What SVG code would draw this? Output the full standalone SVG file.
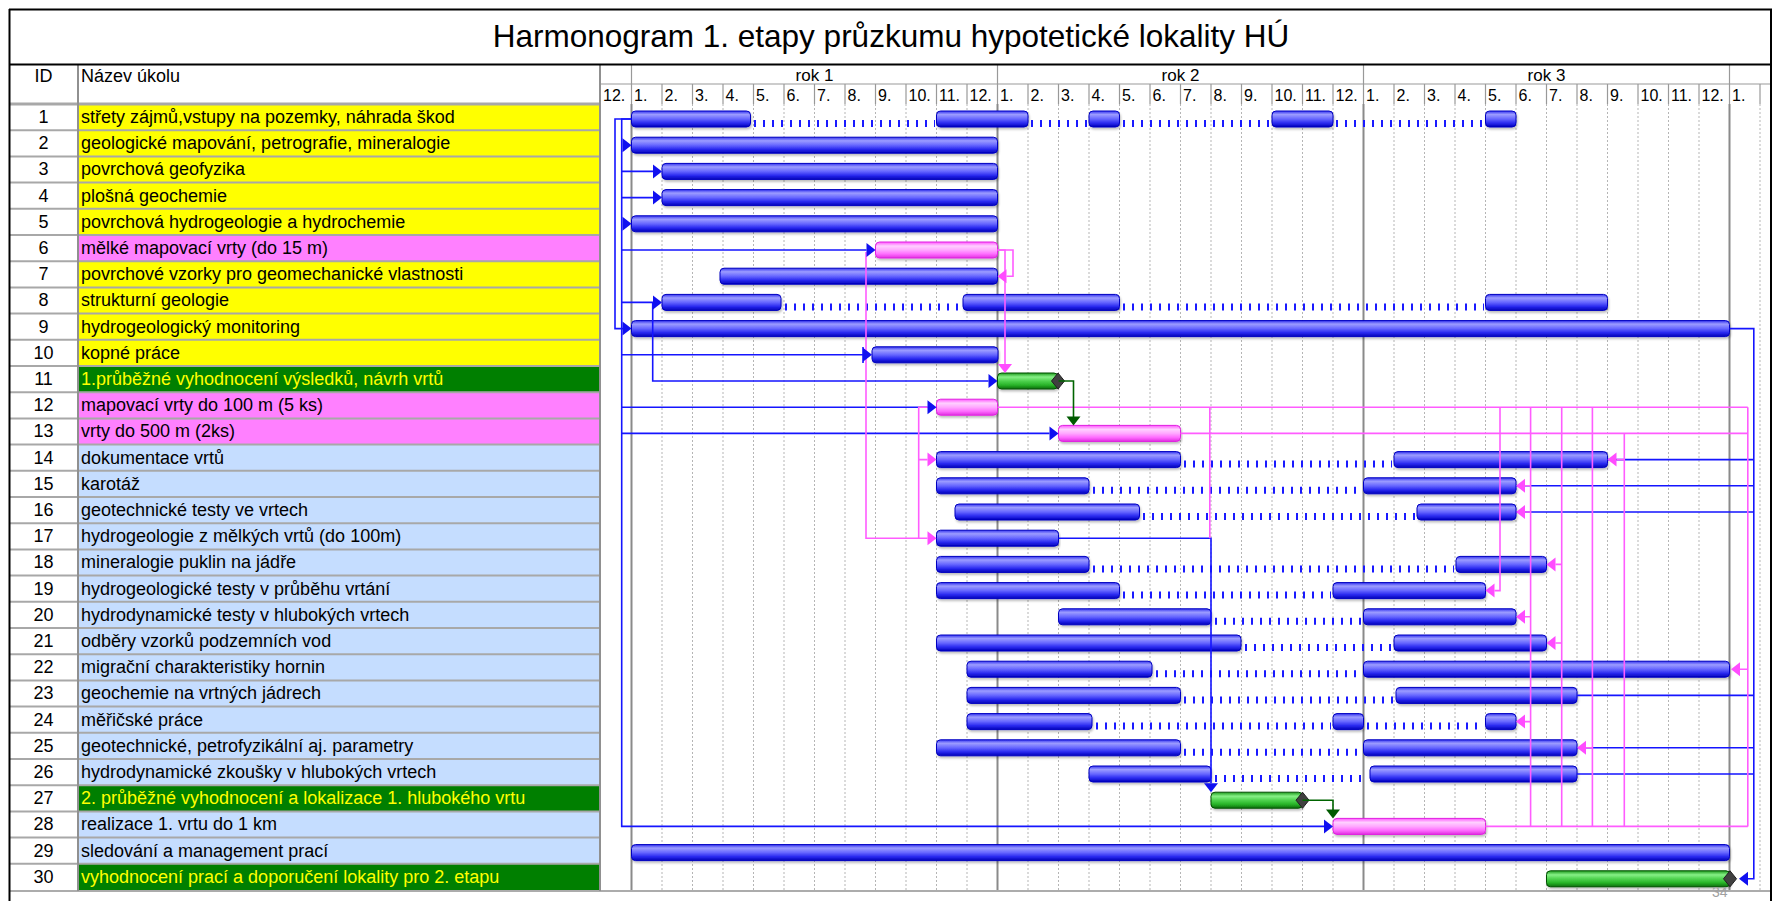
<svg xmlns="http://www.w3.org/2000/svg" xmlns:xlink="http://www.w3.org/1999/xlink" width="1775" height="901" viewBox="0 0 1775 901">
<style>
.tx{font-family:"Liberation Sans",Arial,sans-serif;font-size:18px;fill:#000}
.mid{text-anchor:middle}
.ylw{fill:#ffff00}
.mo{font-family:"Liberation Sans",Arial,sans-serif;font-size:16px;fill:#000}
.yr{font-family:"Liberation Sans",Arial,sans-serif;font-size:17px;fill:#000;text-anchor:middle}
.bb{fill:url(#gB);stroke:#0000c0;stroke-width:1}
.bp{fill:url(#gP);stroke:#e020e0;stroke-width:1}
.bg{fill:url(#gG);stroke:#005000;stroke-width:1}
.dt{stroke:#1a1aff;stroke-width:7;stroke-dasharray:2 7;fill:none}
.cb{stroke:#1515ff;stroke-width:1.6;fill:none}
.cp{stroke:#ff5cff;stroke-width:1.6;fill:none}
.cg{stroke:#006400;stroke-width:1.6;fill:none}
.ab{fill:#1010f0}
.ap{fill:#ff4cff}
.ag{fill:#005a00}
.gd{stroke:#b5b5b5;stroke-width:1;stroke-dasharray:2 2}
.yl{stroke:#8a8a8a;stroke-width:2}
.hl{stroke:#999;stroke-width:1.2;fill:none}
.sep{stroke:#a8a8a8;stroke-width:2}
.dm{fill:#404040;stroke:#202020;stroke-width:1}
.ry{fill:#ffff00}.rp{fill:#ff80ff}.rg{fill:#007f00}.rb{fill:#c5ddff}
</style>
<defs>
<linearGradient id="gB" x1="0" y1="0" x2="0" y2="1">
<stop offset="0" stop-color="#3535f0"/><stop offset="0.22" stop-color="#9c9cff"/><stop offset="0.5" stop-color="#6666ff"/><stop offset="0.75" stop-color="#2a2af0"/><stop offset="1" stop-color="#0000b8"/>
</linearGradient>
<linearGradient id="gP" x1="0" y1="0" x2="0" y2="1">
<stop offset="0" stop-color="#ff55ff"/><stop offset="0.25" stop-color="#ffd0ff"/><stop offset="0.5" stop-color="#ffa8ff"/><stop offset="0.75" stop-color="#ff6cff"/><stop offset="1" stop-color="#e030e0"/>
</linearGradient>
<linearGradient id="gG" x1="0" y1="0" x2="0" y2="1">
<stop offset="0" stop-color="#1c9a1c"/><stop offset="0.25" stop-color="#86f086"/><stop offset="0.5" stop-color="#4fd24f"/><stop offset="0.75" stop-color="#28b428"/><stop offset="1" stop-color="#0e6e0e"/>
</linearGradient>
<filter id="sh" x="-2%" y="-40%" width="104%" height="190%">
<feDropShadow dx="1" dy="2" stdDeviation="0.8" flood-color="#000" flood-opacity="0.25"/>
</filter>
<path id="aR" d="M0,0 L-9,-7 L-9,7 Z"/>
<path id="aL" d="M0,0 L9,-7 L9,7 Z"/>
<path id="aD" d="M0,0 L-7,-9 L7,-9 Z"/>
<path id="dmd" d="M0,-8 L6.5,0 L0,8 L-6.5,0 Z"/>
</defs>

<rect x="0" y="0" width="1775" height="901" fill="#fff"/>

<g id="title">
<text class="tx mid" x="891" y="47" style="font-size:31.5px">Harmonogram 1. etapy průzkumu hypotetické lokality HÚ</text>
</g>

<g id="grid">
<g class="gd">
<line x1="662" y1="104" x2="662" y2="890"/><line x1="692.5" y1="104" x2="692.5" y2="890"/><line x1="723" y1="104" x2="723" y2="890"/><line x1="753.5" y1="104" x2="753.5" y2="890"/><line x1="784" y1="104" x2="784" y2="890"/><line x1="814.5" y1="104" x2="814.5" y2="890"/><line x1="845" y1="104" x2="845" y2="890"/><line x1="875.5" y1="104" x2="875.5" y2="890"/><line x1="906" y1="104" x2="906" y2="890"/><line x1="936.5" y1="104" x2="936.5" y2="890"/><line x1="967" y1="104" x2="967" y2="890"/>
<line x1="1028" y1="104" x2="1028" y2="890"/><line x1="1058.5" y1="104" x2="1058.5" y2="890"/><line x1="1089" y1="104" x2="1089" y2="890"/><line x1="1119.5" y1="104" x2="1119.5" y2="890"/><line x1="1150" y1="104" x2="1150" y2="890"/><line x1="1180.5" y1="104" x2="1180.5" y2="890"/><line x1="1211" y1="104" x2="1211" y2="890"/><line x1="1241.5" y1="104" x2="1241.5" y2="890"/><line x1="1272" y1="104" x2="1272" y2="890"/><line x1="1302.5" y1="104" x2="1302.5" y2="890"/><line x1="1333" y1="104" x2="1333" y2="890"/>
<line x1="1394" y1="104" x2="1394" y2="890"/><line x1="1424.5" y1="104" x2="1424.5" y2="890"/><line x1="1455" y1="104" x2="1455" y2="890"/><line x1="1485.5" y1="104" x2="1485.5" y2="890"/><line x1="1516" y1="104" x2="1516" y2="890"/><line x1="1546.5" y1="104" x2="1546.5" y2="890"/><line x1="1577" y1="104" x2="1577" y2="890"/><line x1="1607.5" y1="104" x2="1607.5" y2="890"/><line x1="1638" y1="104" x2="1638" y2="890"/><line x1="1668.5" y1="104" x2="1668.5" y2="890"/><line x1="1699" y1="104" x2="1699" y2="890"/>
<line x1="1760" y1="104" x2="1760" y2="890"/>
</g>
<g class="yl">
<line x1="631.5" y1="104" x2="631.5" y2="890"/><line x1="997.5" y1="104" x2="997.5" y2="890"/><line x1="1363.5" y1="104" x2="1363.5" y2="890"/><line x1="1729.5" y1="104" x2="1729.5" y2="890"/>
</g>
</g>

<g id="header">
<line class="hl" x1="600" y1="84" x2="1771" y2="84"/>
<g class="hl">
<line x1="631.5" y1="64" x2="631.5" y2="104"/><line x1="997.5" y1="64" x2="997.5" y2="104"/><line x1="1363.5" y1="64" x2="1363.5" y2="104"/><line x1="1729.5" y1="64" x2="1729.5" y2="104"/>
<line x1="662" y1="84" x2="662" y2="104"/><line x1="692.5" y1="84" x2="692.5" y2="104"/><line x1="723" y1="84" x2="723" y2="104"/><line x1="753.5" y1="84" x2="753.5" y2="104"/><line x1="784" y1="84" x2="784" y2="104"/><line x1="814.5" y1="84" x2="814.5" y2="104"/><line x1="845" y1="84" x2="845" y2="104"/><line x1="875.5" y1="84" x2="875.5" y2="104"/><line x1="906" y1="84" x2="906" y2="104"/><line x1="936.5" y1="84" x2="936.5" y2="104"/><line x1="967" y1="84" x2="967" y2="104"/>
<line x1="1028" y1="84" x2="1028" y2="104"/><line x1="1058.5" y1="84" x2="1058.5" y2="104"/><line x1="1089" y1="84" x2="1089" y2="104"/><line x1="1119.5" y1="84" x2="1119.5" y2="104"/><line x1="1150" y1="84" x2="1150" y2="104"/><line x1="1180.5" y1="84" x2="1180.5" y2="104"/><line x1="1211" y1="84" x2="1211" y2="104"/><line x1="1241.5" y1="84" x2="1241.5" y2="104"/><line x1="1272" y1="84" x2="1272" y2="104"/><line x1="1302.5" y1="84" x2="1302.5" y2="104"/><line x1="1333" y1="84" x2="1333" y2="104"/>
<line x1="1394" y1="84" x2="1394" y2="104"/><line x1="1424.5" y1="84" x2="1424.5" y2="104"/><line x1="1455" y1="84" x2="1455" y2="104"/><line x1="1485.5" y1="84" x2="1485.5" y2="104"/><line x1="1516" y1="84" x2="1516" y2="104"/><line x1="1546.5" y1="84" x2="1546.5" y2="104"/><line x1="1577" y1="84" x2="1577" y2="104"/><line x1="1607.5" y1="84" x2="1607.5" y2="104"/><line x1="1638" y1="84" x2="1638" y2="104"/><line x1="1668.5" y1="84" x2="1668.5" y2="104"/><line x1="1699" y1="84" x2="1699" y2="104"/>
<line x1="1760" y1="84" x2="1760" y2="104"/>
</g>
<text class="yr" x="814.5" y="81">rok 1</text>
<text class="yr" x="1180.5" y="81">rok 2</text>
<text class="yr" x="1546.5" y="81">rok 3</text>
<g class="mo">
<text x="603" y="101">12.</text>
<text x="634" y="101">1.</text><text x="664.5" y="101">2.</text><text x="695" y="101">3.</text><text x="725.5" y="101">4.</text><text x="756" y="101">5.</text><text x="786.5" y="101">6.</text><text x="817" y="101">7.</text><text x="847.5" y="101">8.</text><text x="878" y="101">9.</text><text x="908.5" y="101">10.</text><text x="939" y="101">11.</text><text x="969.5" y="101">12.</text>
<text x="1000" y="101">1.</text><text x="1030.5" y="101">2.</text><text x="1061" y="101">3.</text><text x="1091.5" y="101">4.</text><text x="1122" y="101">5.</text><text x="1152.5" y="101">6.</text><text x="1183" y="101">7.</text><text x="1213.5" y="101">8.</text><text x="1244" y="101">9.</text><text x="1274.5" y="101">10.</text><text x="1305" y="101">11.</text><text x="1335.5" y="101">12.</text>
<text x="1366" y="101">1.</text><text x="1396.5" y="101">2.</text><text x="1427" y="101">3.</text><text x="1457.5" y="101">4.</text><text x="1488" y="101">5.</text><text x="1518.5" y="101">6.</text><text x="1549" y="101">7.</text><text x="1579.5" y="101">8.</text><text x="1610" y="101">9.</text><text x="1640.5" y="101">10.</text><text x="1671" y="101">11.</text><text x="1701.5" y="101">12.</text>
<text x="1732" y="101">1.</text>
</g>
<text class="tx mid" x="43.5" y="82">ID</text>
<text class="tx" x="81" y="82">Název úkolu</text>
</g>

<g id="table-rows">
<rect class="ry" x="78" y="104" width="522" height="131"/>
<rect class="rp" x="78" y="235" width="522" height="26.2"/>
<rect class="ry" x="78" y="261.2" width="522" height="104.8"/>
<rect class="rg" x="78" y="366" width="522" height="26.2"/>
<rect class="rp" x="78" y="392.2" width="522" height="52.4"/>
<rect class="rb" x="78" y="444.6" width="522" height="340.6"/>
<rect class="rg" x="78" y="785.2" width="522" height="26.2"/>
<rect class="rb" x="78" y="811.4" width="522" height="52.4"/>
<rect class="rg" x="78" y="863.8" width="522" height="26.2"/>
<g class="sep">
<line x1="10" y1="104" x2="600" y2="104" style="stroke-width:3"/>
<line x1="10" y1="130.2" x2="600" y2="130.2"/><line x1="10" y1="156.4" x2="600" y2="156.4"/><line x1="10" y1="182.6" x2="600" y2="182.6"/><line x1="10" y1="208.8" x2="600" y2="208.8"/><line x1="10" y1="235" x2="600" y2="235"/><line x1="10" y1="261.2" x2="600" y2="261.2"/><line x1="10" y1="287.4" x2="600" y2="287.4"/><line x1="10" y1="313.6" x2="600" y2="313.6"/><line x1="10" y1="339.8" x2="600" y2="339.8"/><line x1="10" y1="366" x2="600" y2="366"/>
<line x1="10" y1="392.2" x2="600" y2="392.2"/><line x1="10" y1="418.4" x2="600" y2="418.4"/><line x1="10" y1="444.6" x2="600" y2="444.6"/><line x1="10" y1="470.8" x2="600" y2="470.8"/><line x1="10" y1="497" x2="600" y2="497"/><line x1="10" y1="523.2" x2="600" y2="523.2"/><line x1="10" y1="549.4" x2="600" y2="549.4"/><line x1="10" y1="575.6" x2="600" y2="575.6"/><line x1="10" y1="601.8" x2="600" y2="601.8"/><line x1="10" y1="628" x2="600" y2="628"/>
<line x1="10" y1="654.2" x2="600" y2="654.2"/><line x1="10" y1="680.4" x2="600" y2="680.4"/><line x1="10" y1="706.6" x2="600" y2="706.6"/><line x1="10" y1="732.8" x2="600" y2="732.8"/><line x1="10" y1="759" x2="600" y2="759"/><line x1="10" y1="785.2" x2="600" y2="785.2"/><line x1="10" y1="811.4" x2="600" y2="811.4"/><line x1="10" y1="837.6" x2="600" y2="837.6"/><line x1="10" y1="863.8" x2="600" y2="863.8"/>
</g>
<line x1="78" y1="64" x2="78" y2="891" stroke="#909090" stroke-width="2"/>
<line x1="600" y1="64" x2="600" y2="891" stroke="#909090" stroke-width="2"/>
<line x1="9" y1="891" x2="1771" y2="891" stroke="#909090" stroke-width="1.5"/>
</g>

<g id="frame" fill="none" stroke="#000" stroke-width="2">
<line x1="9.5" y1="9" x2="9.5" y2="901"/>
<line x1="9" y1="9.5" x2="1772" y2="9.5"/>
<line x1="9" y1="64.5" x2="1772" y2="64.5"/>
<line x1="1771" y1="9" x2="1771" y2="901"/>
</g>

<g id="task-1"><text class="tx mid" x="43.5" y="123">1</text><text class="tx" x="81" y="123">střety zájmů,vstupy na pozemky, náhrada škod</text>
<path class="dt" d="M754,123.5 H935 M1031,123.5 H1088 M1123,123.5 H1271 M1336,123.5 H1484"/>
<g filter="url(#sh)"><rect class="bb" x="631.5" y="111" width="119" height="16" rx="4"/><rect class="bb" x="936.5" y="111" width="91.5" height="16" rx="4"/><rect class="bb" x="1089" y="111" width="30.5" height="16" rx="4"/><rect class="bb" x="1272" y="111" width="61" height="16" rx="4"/><rect class="bb" x="1485.5" y="111" width="30.5" height="16" rx="4"/></g></g>
<g id="task-2"><text class="tx mid" x="43.5" y="149.2">2</text><text class="tx" x="81" y="149.2">geologické mapování, petrografie, mineralogie</text>
<g filter="url(#sh)"><rect class="bb" x="631.5" y="137.2" width="366" height="16" rx="4"/></g></g>
<g id="task-3"><text class="tx mid" x="43.5" y="175.4">3</text><text class="tx" x="81" y="175.4">povrchová geofyzika</text>
<g filter="url(#sh)"><rect class="bb" x="662" y="163.4" width="335.5" height="16" rx="4"/></g></g>
<g id="task-4"><text class="tx mid" x="43.5" y="201.6">4</text><text class="tx" x="81" y="201.6">plošná geochemie</text>
<g filter="url(#sh)"><rect class="bb" x="662" y="189.6" width="335.5" height="16" rx="4"/></g></g>
<g id="task-5"><text class="tx mid" x="43.5" y="227.8">5</text><text class="tx" x="81" y="227.8">povrchová hydrogeologie a hydrochemie</text>
<g filter="url(#sh)"><rect class="bb" x="631.5" y="215.8" width="366" height="16" rx="4"/></g></g>
<g id="task-6"><text class="tx mid" x="43.5" y="254">6</text><text class="tx" x="81" y="254">mělké mapovací vrty (do 15 m)</text>
<g filter="url(#sh)"><rect class="bp" x="875.5" y="242" width="122" height="16" rx="4"/></g></g>
<g id="task-7"><text class="tx mid" x="43.5" y="280.2">7</text><text class="tx" x="81" y="280.2">povrchové vzorky pro geomechanické vlastnosti</text>
<g filter="url(#sh)"><rect class="bb" x="720" y="268.2" width="277.5" height="16" rx="4"/></g></g>
<g id="task-8"><text class="tx mid" x="43.5" y="306.4">8</text><text class="tx" x="81" y="306.4">strukturní geologie</text>
<path class="dt" d="M785,306.9 H961 M1123,306.9 H1484"/>
<g filter="url(#sh)"><rect class="bb" x="662" y="294.4" width="119" height="16" rx="4"/><rect class="bb" x="963" y="294.4" width="156.5" height="16" rx="4"/><rect class="bb" x="1485.5" y="294.4" width="122" height="16" rx="4"/></g></g>
<g id="task-9"><text class="tx mid" x="43.5" y="332.6">9</text><text class="tx" x="81" y="332.6">hydrogeologický monitoring</text>
<g filter="url(#sh)"><rect class="bb" x="631.5" y="320.6" width="1098" height="16" rx="4"/></g></g>
<g id="task-10"><text class="tx mid" x="43.5" y="358.8">10</text><text class="tx" x="81" y="358.8">kopné práce</text>
<g filter="url(#sh)"><rect class="bb" x="872" y="346.8" width="126" height="16" rx="4"/></g></g>
<g id="task-11"><text class="tx mid" x="43.5" y="385">11</text><text class="tx ylw" x="81" y="385">1.průběžné vyhodnocení výsledků, návrh vrtů</text>
<g filter="url(#sh)"><rect class="bg" x="997.5" y="373" width="60.5" height="16" rx="4"/></g><use href="#dmd" class="dm" x="1058" y="381"/></g>
<g id="task-12"><text class="tx mid" x="43.5" y="411.2">12</text><text class="tx" x="81" y="411.2">mapovací vrty do 100 m (5 ks)</text>
<g filter="url(#sh)"><rect class="bp" x="936.5" y="399.2" width="61" height="16" rx="4"/></g></g>
<g id="task-13"><text class="tx mid" x="43.5" y="437.4">13</text><text class="tx" x="81" y="437.4">vrty do 500 m (2ks)</text>
<g filter="url(#sh)"><rect class="bp" x="1058.5" y="425.4" width="122" height="16" rx="4"/></g></g>
<g id="task-14"><text class="tx mid" x="43.5" y="463.6">14</text><text class="tx" x="81" y="463.6">dokumentace vrtů</text>
<path class="dt" d="M1184,464.1 H1392"/>
<g filter="url(#sh)"><rect class="bb" x="936.5" y="451.6" width="244" height="16" rx="4"/><rect class="bb" x="1394" y="451.6" width="213.5" height="16" rx="4"/></g></g>
<g id="task-15"><text class="tx mid" x="43.5" y="489.8">15</text><text class="tx" x="81" y="489.8">karotáž</text>
<path class="dt" d="M1093,490.3 H1361"/>
<g filter="url(#sh)"><rect class="bb" x="936.5" y="477.8" width="152.5" height="16" rx="4"/><rect class="bb" x="1363.5" y="477.8" width="152.5" height="16" rx="4"/></g></g>
<g id="task-16"><text class="tx mid" x="43.5" y="516">16</text><text class="tx" x="81" y="516">geotechnické testy ve vrtech</text>
<path class="dt" d="M1143,516.5 H1415"/>
<g filter="url(#sh)"><rect class="bb" x="955" y="504" width="184.5" height="16" rx="4"/><rect class="bb" x="1417" y="504" width="99" height="16" rx="4"/></g></g>
<g id="task-17"><text class="tx mid" x="43.5" y="542.2">17</text><text class="tx" x="81" y="542.2">hydrogeologie z mělkých vrtů (do 100m)</text>
<g filter="url(#sh)"><rect class="bb" x="936.5" y="530.2" width="122" height="16" rx="4"/></g></g>
<g id="task-18"><text class="tx mid" x="43.5" y="568.4">18</text><text class="tx" x="81" y="568.4">mineralogie puklin na jádře</text>
<path class="dt" d="M1093,568.9 H1454"/>
<g filter="url(#sh)"><rect class="bb" x="936.5" y="556.4" width="152.5" height="16" rx="4"/><rect class="bb" x="1456" y="556.4" width="90.5" height="16" rx="4"/></g></g>
<g id="task-19"><text class="tx mid" x="43.5" y="594.6">19</text><text class="tx" x="81" y="594.6">hydrogeologické testy v průběhu vrtání</text>
<path class="dt" d="M1123,595.1 H1331"/>
<g filter="url(#sh)"><rect class="bb" x="936.5" y="582.6" width="183" height="16" rx="4"/><rect class="bb" x="1333" y="582.6" width="152.5" height="16" rx="4"/></g></g>
<g id="task-20"><text class="tx mid" x="43.5" y="620.8">20</text><text class="tx" x="81" y="620.8">hydrodynamické testy v hlubokých vrtech</text>
<path class="dt" d="M1215,621.3 H1361"/>
<g filter="url(#sh)"><rect class="bb" x="1058.5" y="608.8" width="152.5" height="16" rx="4"/><rect class="bb" x="1363.5" y="608.8" width="152.5" height="16" rx="4"/></g></g>
<g id="task-21"><text class="tx mid" x="43.5" y="647">21</text><text class="tx" x="81" y="647">odběry vzorků podzemních vod</text>
<path class="dt" d="M1245,647.5 H1392"/>
<g filter="url(#sh)"><rect class="bb" x="936.5" y="635" width="304.5" height="16" rx="4"/><rect class="bb" x="1394" y="635" width="152.5" height="16" rx="4"/></g></g>
<g id="task-22"><text class="tx mid" x="43.5" y="673.2">22</text><text class="tx" x="81" y="673.2">migrační charakteristiky hornin</text>
<path class="dt" d="M1156,673.7 H1361"/>
<g filter="url(#sh)"><rect class="bb" x="967" y="661.2" width="185" height="16" rx="4"/><rect class="bb" x="1363.5" y="661.2" width="366" height="16" rx="4"/></g></g>
<g id="task-23"><text class="tx mid" x="43.5" y="699.4">23</text><text class="tx" x="81" y="699.4">geochemie na vrtných jádrech</text>
<path class="dt" d="M1184,699.9 H1394"/>
<g filter="url(#sh)"><rect class="bb" x="967" y="687.4" width="213.5" height="16" rx="4"/><rect class="bb" x="1396" y="687.4" width="181" height="16" rx="4"/></g></g>
<g id="task-24"><text class="tx mid" x="43.5" y="725.6">24</text><text class="tx" x="81" y="725.6">měřičské práce</text>
<path class="dt" d="M1096,726.1 H1331 M1367,726.1 H1483"/>
<g filter="url(#sh)"><rect class="bb" x="967" y="713.6" width="125" height="16" rx="4"/><rect class="bb" x="1333" y="713.6" width="30.5" height="16" rx="4"/><rect class="bb" x="1485.5" y="713.6" width="30.5" height="16" rx="4"/></g></g>
<g id="task-25"><text class="tx mid" x="43.5" y="751.8">25</text><text class="tx" x="81" y="751.8">geotechnické, petrofyzikální aj. parametry</text>
<path class="dt" d="M1184,752.3 H1361"/>
<g filter="url(#sh)"><rect class="bb" x="936.5" y="739.8" width="244" height="16" rx="4"/><rect class="bb" x="1363.5" y="739.8" width="213.5" height="16" rx="4"/></g></g>
<g id="task-26"><text class="tx mid" x="43.5" y="778">26</text><text class="tx" x="81" y="778">hydrodynamické zkoušky v hlubokých vrtech</text>
<path class="dt" d="M1215,778.5 H1368"/>
<g filter="url(#sh)"><rect class="bb" x="1089" y="766" width="122" height="16" rx="4"/><rect class="bb" x="1370" y="766" width="207" height="16" rx="4"/></g></g>
<g id="task-27"><text class="tx mid" x="43.5" y="804.2">27</text><text class="tx ylw" x="81" y="804.2">2. průběžné vyhodnocení a lokalizace 1. hlubokého vrtu</text>
<g filter="url(#sh)"><rect class="bg" x="1211" y="792.2" width="91.5" height="16" rx="4"/></g><use href="#dmd" class="dm" x="1302.5" y="800.2"/></g>
<g id="task-28"><text class="tx mid" x="43.5" y="830.4">28</text><text class="tx" x="81" y="830.4">realizace 1. vrtu do 1 km</text>
<g filter="url(#sh)"><rect class="bp" x="1333" y="818.4" width="152.5" height="16" rx="4"/></g></g>
<g id="task-29"><text class="tx mid" x="43.5" y="856.6">29</text><text class="tx" x="81" y="856.6">sledování a management prací</text>
<g filter="url(#sh)"><rect class="bb" x="631.5" y="844.6" width="1098" height="16" rx="4"/></g></g>
<g id="task-30"><text class="tx mid" x="43.5" y="882.8">30</text><text class="tx ylw" x="81" y="882.8">vyhodnocení prací a doporučení lokality pro 2. etapu</text>
<g filter="url(#sh)"><rect class="bg" x="1546.5" y="870.8" width="183.5" height="16" rx="4"/></g><use href="#dmd" class="dm" x="1730" y="878.8"/></g>

<g id="connectors">
<path class="cb" d="M631.5,119 H615 V328.6 H623"/>
<path class="cb" d="M631.5,119 H621.7 V826.4 H1324 M621.7,171.4 H653 M621.7,197.6 H653 M621.7,302.4 H653 M621.7,250 H866.5 M621.7,354.8 H863 M621.7,407.2 H927.5 M621.7,433.4 H1049.5"/>
<path class="cb" d="M863,347 V363"/>
<path class="cb" d="M652.7,302.4 V381 H988.5"/>
<path class="cb" d="M1058.5,538.2 H1211 V783"/>
<path class="cb" d="M1729.5,328.6 H1753.8 V878.8 H1748 M1607.5,459.6 H1753.8 M1516,485.8 H1753.8 M1516,512 H1753.8 M1577,695.4 H1753.8 M1577,747.8 H1753.8 M1577,774 H1753.8"/>
<path class="cp" d="M866,252 V538.2 H927.5"/>
<path class="cp" d="M928,407.2 H918.7 V538.2 M918.7,459.6 H927.5"/>
<path class="cp" d="M997.5,250 H1013 V276.2 H1006.5"/>
<path class="cp" d="M997.5,250 H1005 V364"/>
<path class="cp" d="M997.5,407.2 H1747.8 M1180.5,433.4 H1747.8 M1485.5,826.4 H1747.8"/>
<path class="cp" d="M1209.8,407.2 V538.2"/>
<path class="cp" d="M1500,407.2 V590.6 H1494.5"/>
<path class="cp" d="M1530.6,407.2 V826.4 M1530.6,485.8 H1525 M1530.6,512 H1525 M1530.6,616.8 H1525 M1530.6,721.6 H1525"/>
<path class="cp" d="M1561.7,407.2 V826.4 M1561.7,564.4 H1555.5 M1561.7,643 H1555.5"/>
<path class="cp" d="M1592.4,407.2 V826.4 M1592.4,747.8 H1586"/>
<path class="cp" d="M1624.3,433.4 V826.4 M1624.3,459.6 H1616.5"/>
<path class="cp" d="M1747.8,407.2 V826.4 M1747.8,669.2 H1740"/>
<path class="cg" d="M1058.5,381 H1073.5 V417"/>
<path class="cg" d="M1302.5,800.2 H1333 V810"/>
<use href="#aR" class="ab" x="631.5" y="145.2"/>
<use href="#aR" class="ab" x="662" y="171.4"/>
<use href="#aR" class="ab" x="662" y="197.6"/>
<use href="#aR" class="ab" x="631.5" y="223.8"/>
<use href="#aR" class="ab" x="875.5" y="250"/>
<use href="#aR" class="ab" x="662" y="302.4"/>
<use href="#aR" class="ab" x="631.5" y="328.6"/>
<use href="#aR" class="ab" x="872" y="354.8"/>
<use href="#aR" class="ab" x="997.5" y="381"/>
<use href="#aR" class="ab" x="936.5" y="407.2"/>
<use href="#aR" class="ab" x="1058.5" y="433.4"/>
<use href="#aR" class="ab" x="1333" y="826.4"/>
<use href="#aD" class="ab" x="1211" y="792.2"/>
<use href="#aL" class="ab" x="1739" y="878.8"/>
<use href="#aR" class="ap" x="936.5" y="459.6"/>
<use href="#aR" class="ap" x="936.5" y="538.2"/>
<use href="#aL" class="ap" x="997.5" y="276.2"/>
<use href="#aD" class="ap" x="1005" y="373"/>
<use href="#aL" class="ap" x="1485.5" y="590.6"/>
<use href="#aL" class="ap" x="1516" y="485.8"/>
<use href="#aL" class="ap" x="1516" y="512"/>
<use href="#aL" class="ap" x="1516" y="616.8"/>
<use href="#aL" class="ap" x="1516" y="721.6"/>
<use href="#aL" class="ap" x="1546.5" y="564.4"/>
<use href="#aL" class="ap" x="1546.5" y="643"/>
<use href="#aL" class="ap" x="1577" y="747.8"/>
<use href="#aL" class="ap" x="1607.5" y="459.6"/>
<use href="#aL" class="ap" x="1731" y="669.2"/>
<use href="#aD" class="ag" x="1073.5" y="425.4"/>
<use href="#aD" class="ag" x="1333" y="818.4"/>
</g>

<text x="1712" y="897" style="font-family:'Liberation Sans',Arial,sans-serif;font-size:14px;fill:#a0a0a0">34</text>
</svg>
